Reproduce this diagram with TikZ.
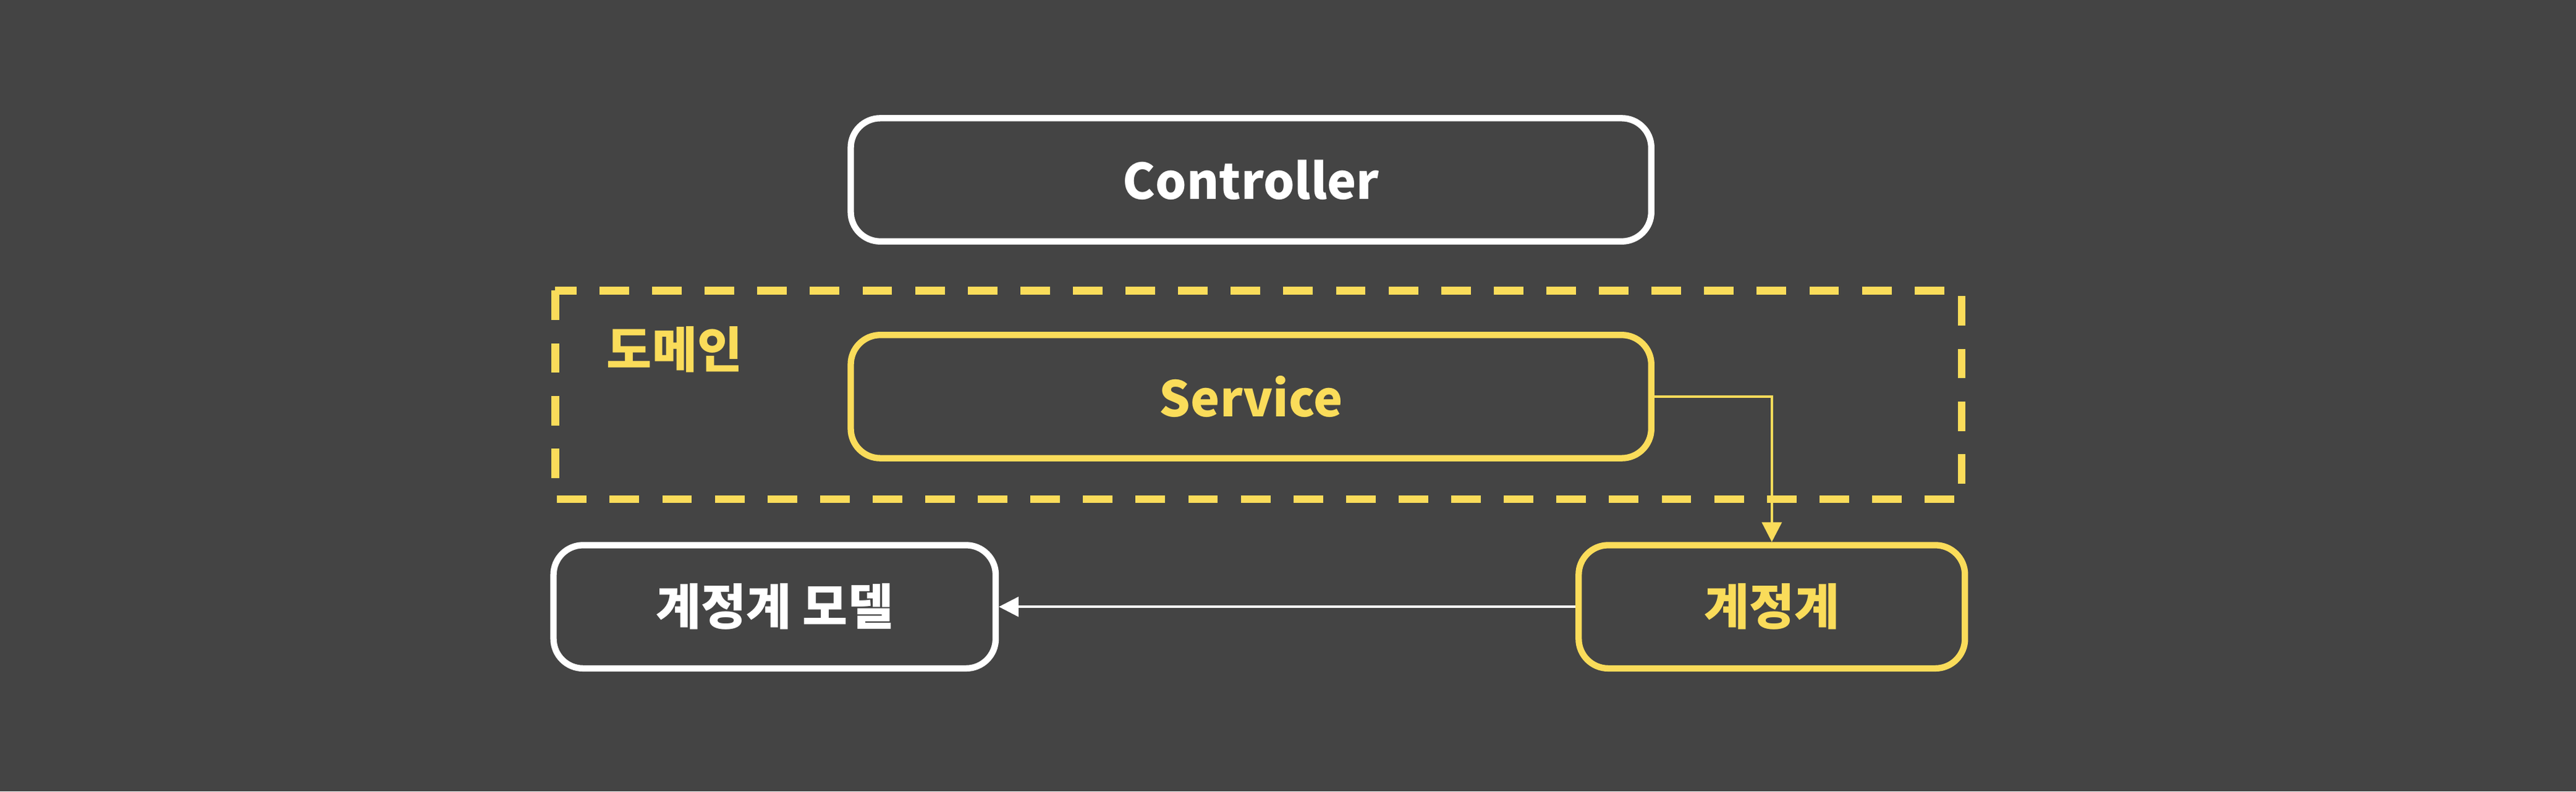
\documentclass[tikz,border=0pt]{standalone}
\usepackage{fontspec}
\setmainfont{Noto Sans CJK KR}
\usetikzlibrary{arrows.meta}
\definecolor{bgc}{HTML}{444444}
\definecolor{ylw}{HTML}{FADC5A}
\begin{document}
\begin{tikzpicture}[x=0.01cm, y=-0.01cm, every node/.append style={font=\bfseries\fontsize{8.5}{10}\selectfont},
	box/.style={draw=#1, text=#1, line width=1.1pt, rounded corners=0.18cm, inner sep=0pt},
	link/.style={draw=#1, line width=0.4pt, -{Triangle[length=0.12cm, width=0.12cm]}}]
	\fill[bgc] (0,0) rectangle (1568,482);
	\useasboundingbox (0,0) rectangle (1568,482);

	\draw[ylw, line width=1.3pt, dash pattern=on 0.18cm off 0.14cm] (338,177) rectangle (1194,304);
	\node[text=ylw, anchor=west] (domain) at (357,213) {도메인};

	\node[box=white, minimum width=4.87cm, minimum height=0.75cm] (ctrl) at (761.5,109.5) {Controller};
	\node[box=ylw, minimum width=4.87cm, minimum height=0.75cm] (svc) at (761.5,241.5) {Service};
	\node[box=ylw, minimum width=2.35cm, minimum height=0.75cm] (acct) at (1078.5,369.5) {계정계};
	\node[box=white, minimum width=2.69cm, minimum height=0.75cm] (model) at (471.5,369.5) {계정계 모델};

	\draw[link=ylw] (svc.east) -| (acct.north);
	\draw[link=white] (acct.west) -- (model.east);
\end{tikzpicture}
\end{document}
